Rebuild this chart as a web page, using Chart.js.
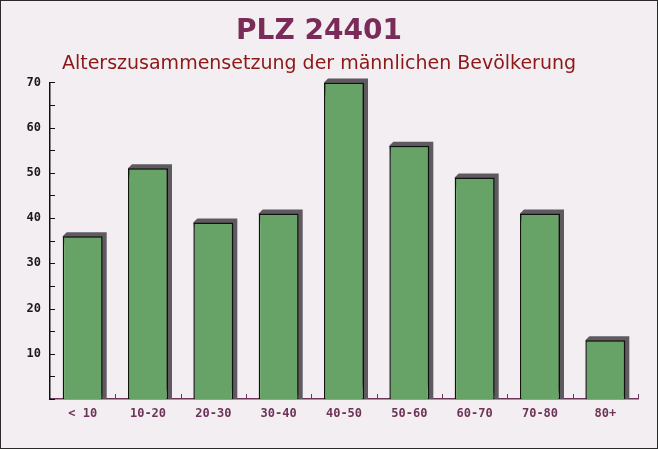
<!DOCTYPE html>
<html>
<head>
<meta charset="utf-8">
<script src="https://cdn.jsdelivr.net/npm/chart.js@4"></script>
<style>
  html, body { margin: 0; padding: 0; background: #f2eef1; }
  #wrap { width: 658px; height: 449px; position: relative; }
</style>
</head>
<body>
<div id="wrap"><canvas id="ageChart"></canvas></div>
<script>
// Male population of PLZ 24401 by age group
const ageGroups = ['< 10', '10-20', '20-30', '30-40', '40-50', '50-60', '60-70', '70-80', '80+'];
const maleCounts = [36, 51, 39, 41, 70, 56, 49, 41, 13];

const yMax = 70;
const yStep = 5;   // minor ticks every 5, labels only every 10

// page background + thin dark frame
const frame = {
  id: 'frame',
  beforeDraw(chart) {
    const c = chart.ctx;
    c.save();
    c.fillStyle = '#f2eef1';
    c.fillRect(0, 0, chart.width, chart.height);
    c.restore();
  },
  afterDraw(chart) {
    const c = chart.ctx;
    c.save();
    c.strokeStyle = '#2a2a2a';
    c.lineWidth = 1;
    c.strokeRect(0.5, 0.5, chart.width - 1, chart.height - 1);
    c.restore();
  }
};

// the little 3d shadow behind each bar (up and to the right)
const barShadow = {
  id: 'barShadow',
  beforeDatasetsDraw(chart) {
    const c = chart.ctx;
    const d = 4;
    c.save();
    c.fillStyle = '#5f5a5f';
    chart.getDatasetMeta(0).data.forEach(bar => {
      const p = bar.getProps(['x', 'y', 'base', 'width'], true);
      const l = p.x - p.width / 2, r = p.x + p.width / 2;
      c.beginPath();
      c.moveTo(l, p.y);
      c.lineTo(l + d, p.y - d);
      c.lineTo(r + d, p.y - d);
      c.lineTo(r + d, p.base);
      c.lineTo(r, p.base);
      c.closePath();
      c.fill();
    });
    c.restore();
  }
};

// tick marks point into the plot, like the original
const innerTicks = {
  id: 'innerTicks',
  afterDatasetsDraw(chart) {
    const c = chart.ctx;
    const xs = chart.scales.x, ys = chart.scales.y;
    const len = 5;
    c.save();
    c.lineWidth = 1;

    c.strokeStyle = '#111111';
    ys.ticks.forEach(t => {
      const py = Math.round(ys.getPixelForValue(t.value)) + 0.5;
      c.beginPath();
      c.moveTo(ys.right, py);
      c.lineTo(ys.right + len, py);
      c.stroke();
    });

    c.strokeStyle = '#6e3358';
    const n = ageGroups.length;
    for (let i = 1; i <= n; i++) {
      const px = Math.round(xs.left + (xs.right - xs.left) * i / n) + 0.5;
      c.beginPath();
      c.moveTo(px, xs.top);
      c.lineTo(px, xs.top - len);
      c.stroke();
    }
    c.restore();
  }
};

new Chart(document.getElementById('ageChart'), {
  type: 'bar',
  data: {
    labels: ageGroups,
    datasets: [{
      data: maleCounts,
      backgroundColor: '#67a267',
      borderColor: '#111111',
      borderWidth: 1.5,
      borderSkipped: 'bottom',
      barPercentage: 0.68,
      categoryPercentage: 0.9
    }]
  },
  options: {
    responsive: true,
    maintainAspectRatio: false,
    animation: false,
    layout: { padding: { top: 2, right: 20, left: 0, bottom: 0 } },
    plugins: {
      legend: { display: false },
      tooltip: { enabled: false },
      title: {
        display: true,
        text: 'PLZ 24401',
        color: '#7a2b58',
        font: { family: 'DejaVu Sans', size: 28, weight: 'bold' },
        padding: { top: 13, bottom: 4 }
      },
      subtitle: {
        display: true,
        text: 'Alterszusammensetzung der männlichen Bevölkerung',
        color: '#8c1818',
        font: { family: 'DejaVu Sans', size: 19 },
        padding: { top: 0, bottom: 7 }
      }
    },
    scales: {
      x: {
        grid: { display: false, drawTicks: false },
        border: { color: '#6e3358', width: 1.5 },
        ticks: {
          color: '#6e3358',
          padding: 8,
          font: { family: 'DejaVu Sans Mono', size: 12, weight: 'bold' }
        },
        afterFit(scale) { scale.height = 50; }
      },
      y: {
        min: 0,
        max: yMax,
        grid: { display: false, drawTicks: false },
        border: { color: '#111111', width: 1.5 },
        ticks: {
          stepSize: yStep,
          color: '#1a1a1a',
          padding: 9,
          font: { family: 'DejaVu Sans Mono', size: 12, weight: 'bold' },
          callback: v => (v % 10 === 0 && v !== 0) ? v : ''
        },
        afterFit(scale) { scale.width = 50; }
      }
    }
  },
  plugins: [frame, barShadow, innerTicks]
});
</script>
</body>
</html>
